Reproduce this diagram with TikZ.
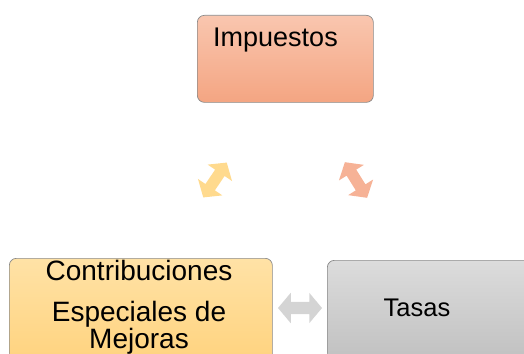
\documentclass[tikz,border=0pt]{standalone}
\usepackage{fontspec}
\setmainfont{Liberation Sans}
\usetikzlibrary{shapes.arrows}
\definecolor{impTop}{HTML}{F9C6AF}
\definecolor{impBot}{HTML}{F4A582}
\definecolor{conTop}{HTML}{FFE2A6}
\definecolor{conBot}{HTML}{FFD27C}
\definecolor{tasTop}{HTML}{DCDCDC}
\definecolor{tasBot}{HTML}{BEBEBE}
\definecolor{boxLine}{HTML}{8A8A8A}
\definecolor{arrYellow}{HTML}{FFDA8E}
\definecolor{arrSalmon}{HTML}{F6B296}
\definecolor{arrGray}{HTML}{D4D4D4}
\tikzset{
  box/.style={draw=boxLine, line width=0.7pt, rounded corners=7pt, anchor=north west, inner sep=0pt},
  dblarrow/.style={double arrow, draw=none, inner xsep=0pt, inner ysep=6pt, minimum height=44pt,
    double arrow head extend=9pt, double arrow tip angle=100},
  txt/.style={inner sep=0pt, text=black, font=\fontsize{27}{27}\selectfont}
}
\begin{document}
\begin{tikzpicture}[x=1pt,y=1pt,yscale=-1]
\useasboundingbox (0,0) rectangle (524,353);
\clip (0,0) rectangle (524,353);
%Shape: Rounded Rectangle [Impuestos]
\node[box, top color=impTop, bottom color=impBot, minimum width=176pt, minimum height=87pt] (impuestos) at (197,15) {};
%Shape: Rounded Rectangle [Contribuciones]
\node[box, top color=conTop, bottom color=conBot, minimum width=263pt, minimum height=110pt] (contrib) at (9,258) {};
%Shape: Rounded Rectangle [Tasas]
\node[box, top color=tasTop, bottom color=tasBot, minimum width=220pt, minimum height=110pt] (tasas) at (327,260) {};
% Text Node
\node[txt, anchor=base west] (impText) at (213,47) {Impuestos};
% Text Node
\node[txt, anchor=north, align=center, font=\fontsize{28}{27}\selectfont] (contribText) at (139,260.5) {Contribuciones\\[14pt] Especiales de\\ Mejoras};
% Text Node
\node[txt, anchor=base, font=\fontsize{25.5}{27}\selectfont] (tasasText) at (417,316) {Tasas};
%Shape: Double Arrow
\node[dblarrow, fill=arrYellow, minimum height=42pt, inner ysep=5.5pt, rotate=56] (arrLeft) at (215,180) {};
%Shape: Double Arrow
\node[dblarrow, fill=arrSalmon, minimum height=42pt, inner ysep=5.5pt, rotate=-58] (arrRight) at (356,180) {};
%Shape: Double Arrow
\node[dblarrow, fill=arrGray] (arrBottom) at (300,308) {};
\end{tikzpicture}
\end{document}
